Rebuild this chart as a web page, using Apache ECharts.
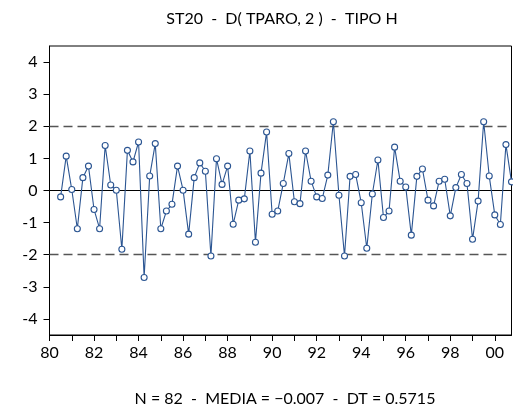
<!DOCTYPE html>
<html>
<head>
<meta charset="utf-8">
<script src="https://cdn.jsdelivr.net/npm/echarts@6/dist/echarts.min.js"></script>
<style>
html,body{margin:0;padding:0;background:#fff;}
#c{width:513px;height:410px;}
</style>
</head>
<body>
<div id="c"></div>
<script>
// Quarterly observations 1980Q3 .. 2000Q4 (82 obs)
const startYear = 1980.5;
const values = [
  -0.20, 1.07, 0.03, -1.19, 0.40, 0.76, -0.59, -1.19, 1.40, 0.17,
  0.01, -1.83, 1.25, 0.89, 1.51, -2.71, 0.45, 1.46, -1.19, -0.64,
  -0.43, 0.76, 0.01, -1.36, 0.40, 0.86, 0.60, -2.04, 0.99, 0.19,
  0.76, -1.05, -0.30, -0.26, 1.23, -1.61, 0.54, 1.82, -0.74, -0.64,
  0.22, 1.15, -0.35, -0.41, 1.23, 0.29, -0.20, -0.25, 0.48, 2.14,
  -0.15, -2.04, 0.44, 0.50, -0.38, -1.80, -0.11, 0.95, -0.84, -0.64,
  1.35, 0.29, 0.11, -1.39, 0.44, 0.67, -0.30, -0.48, 0.29, 0.35,
  -0.79, 0.09, 0.50, 0.22, -1.52, -0.33, 2.14, 0.45, -0.76, -1.06,
  1.43, 0.27
];
const yTicks = [-4, -3, -2, -1, 0, 1, 2, 3, 4];
const xLabelYears = [1980, 1982, 1984, 1986, 1988, 1990, 1992, 1994, 1996, 1998, 2000];
const xTickYears = [1980,1981,1982,1983,1984,1985,1986,1987,1988,1989,1990,1991,1992,1993,1994,1995,1996,1997,1998,1999,2000];
const bandLines = [2, -2];
const titleText = 'ST20  -  D( TPARO, 2 )  -  TIPO H';
const footerText = 'N = 82  -  MEDIA = \u22120.007  -  DT = 0.5715';

const seriesData = values.map((v, i) => [startYear + i / 4, v]);
const FONT = 'Lato, "Open Sans", sans-serif';

const chart = echarts.init(document.getElementById('c'), null, {renderer: 'canvas'});
chart.setOption({
  animation: false,
  backgroundColor: '#fff',
  grid: {
    left: 49.5, top: 46, width: 462, height: 289,
    show: true, borderColor: '#000', borderWidth: 1, backgroundColor: 'transparent'
  },
  graphic: [
    {type: 'text', x: 282, y: 19, style: {text: titleText, font: '16px ' + FONT, fill: '#000', textAlign: 'center', textVerticalAlign: 'middle'}},
    {type: 'text', x: 285, y: 399, style: {text: footerText, font: '16px ' + FONT, fill: '#000', textAlign: 'center', textVerticalAlign: 'middle'}}
  ],
  xAxis: {
    type: 'value', min: 1980, max: 2000.75,
    axisLine: {show: true, onZero: false, lineStyle: {color: '#000', width: 1}},
    splitLine: {show: false},
    axisTick: {show: true, length: 6, inside: false, customValues: xTickYears, lineStyle: {color: '#000'}},
    axisLabel: {show: true, margin: 10, fontSize: 16, fontFamily: FONT, color: '#000',
      customValues: xLabelYears,
      formatter: v => String(Math.round(v) % 100).padStart(2, '0')}
  },
  yAxis: {
    type: 'value', min: -4.5, max: 4.5,
    axisLine: {show: true, onZero: false, lineStyle: {color: '#000', width: 1}},
    splitLine: {show: false},
    axisTick: {show: true, length: 6, inside: false, customValues: yTicks, lineStyle: {color: '#000'}},
    axisLabel: {show: true, margin: 12, fontSize: 16, fontFamily: FONT, color: '#000',
      customValues: yTicks, formatter: v => String(Math.round(v))}
  },
  series: [{
    type: 'line',
    data: seriesData,
    symbol: 'circle',
    symbolSize: 6,
    showSymbol: true,
    lineStyle: {color: '#2b5592', width: 1.1},
    itemStyle: {color: '#fff', borderColor: '#2b5592', borderWidth: 1.1},
    z: 5,
    markLine: {
      silent: true, symbol: 'none', label: {show: false},
      z: 3,
      data: [
        {yAxis: 0, lineStyle: {color: '#000', type: 'solid', width: 1}},
        {yAxis: bandLines[0], lineStyle: {color: '#555', type: [9, 5], width: 1.3}},
        {yAxis: bandLines[1], lineStyle: {color: '#555', type: [9, 5], width: 1.3}}
      ]
    }
  }]
});
</script>
</body>
</html>
